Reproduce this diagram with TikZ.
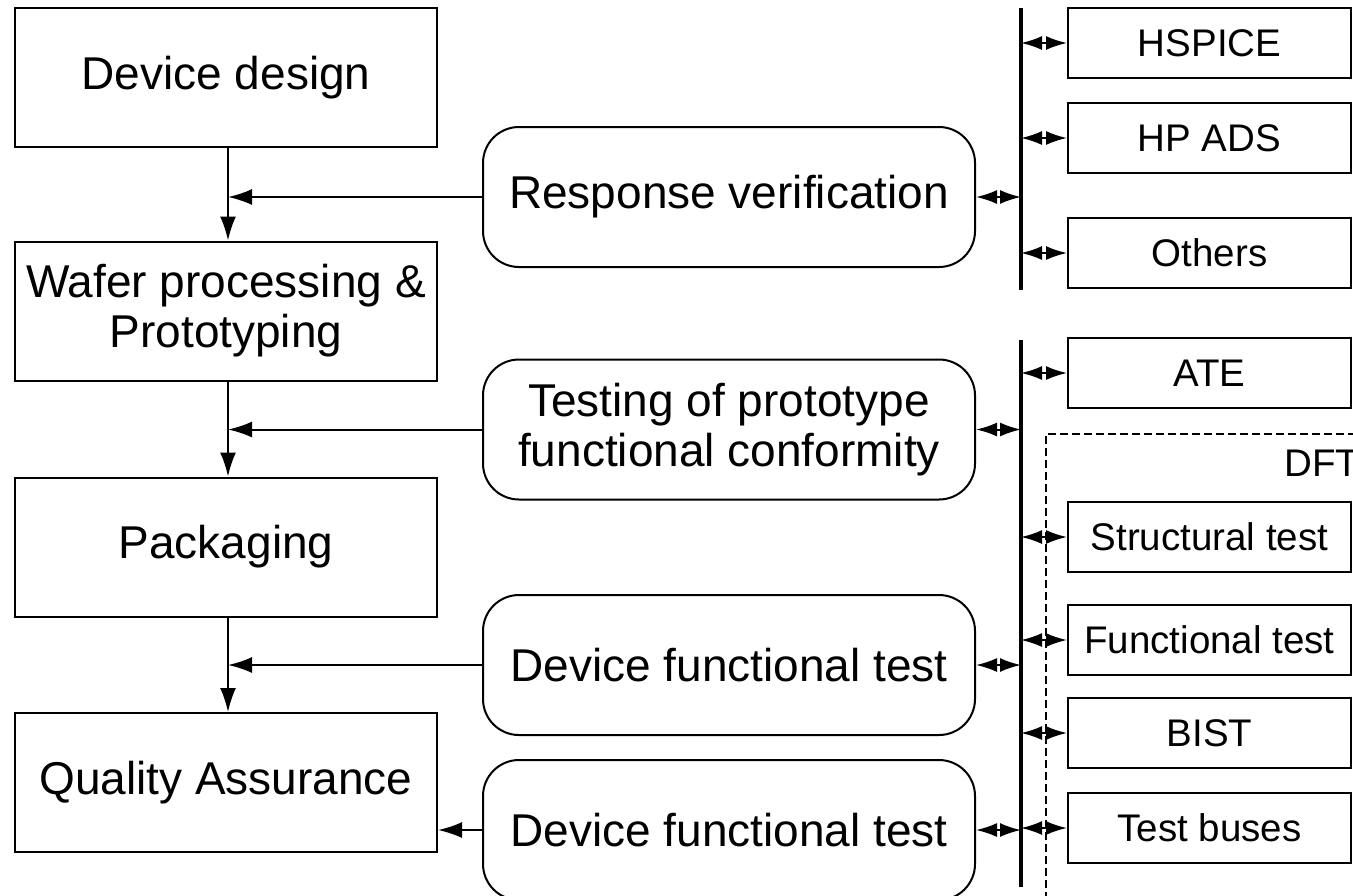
\documentclass[tikz,border=0pt]{standalone}
\usepackage{fontspec}
\setmainfont{Liberation Sans}
\usepackage{tikz}
\usetikzlibrary{shapes.geometric, arrows.meta, calc}
\tikzstyle{process} = [rectangle, minimum width=211pt, minimum height=69.5pt, text centered, align=center, draw=black, line width=1pt, font=\fontsize{23}{25}\selectfont]
\tikzstyle{check} = [rectangle, rounded corners=18pt, minimum width=246pt, minimum height=70pt, text centered, align=center, draw=black, line width=1pt, font=\fontsize{23}{25}\selectfont]
\tikzstyle{tool} = [rectangle, minimum width=141.5pt, minimum height=35pt, text centered, draw=black, line width=1pt, font=\fontsize{19.25}{22}\selectfont]
\tikzstyle{arrow} = [line width=1pt,-{Latex[length=12pt,width=8pt]}]
\tikzstyle{dblarrow} = [line width=1pt,{Latex[length=10.5pt,width=7pt]}-{Latex[length=10.5pt,width=7pt]}]
\tikzstyle{bus} = [line width=1.6pt]

\begin{document}
\begin{tikzpicture}[x=0.5pt, y=-0.5pt]
    \useasboundingbox (0,0) rectangle (1353,895);

    % flow on the left
    \node (device_design) [process] at (226,77.5) {Device design};
    \node (wafer_processing) [process] at (226,311) {Wafer processing \&\\Prototyping};
    \node (packaging) [process] at (226,547) {Packaging};
    \node (quality_assurance) [process] at (226,782.5) {Quality Assurance};

    % checks in the middle
    \node (response_verification) [check] at (729,197) {Response verification};
    \node (testing_prototype) [check] at (729,429.5) {Testing of prototype\\functional conformity};
    \node (functional_test_a) [check] at (729,665) {Device functional test};
    \node (functional_test_b) [check] at (729,830) {Device functional test};

    % tools on the right
    \node (hspice) [tool] at (1209.5,43) {HSPICE};
    \node (hp_ads) [tool] at (1209.5,138) {HP ADS};
    \node (others) [tool] at (1209.5,253) {Others};
    \node (ate) [tool] at (1209.5,373) {ATE};
    \node (structural_test) [tool] at (1209.5,537) {Structural test};
    \node (functional_test) [tool] at (1209.5,640) {Functional test};
    \node (bist) [tool] at (1209.5,733) {BIST};
    \node (test_buses) [tool] at (1209.5,828) {Test buses};

    % DFT group
    \draw[dashed, line width=0.7pt, dash pattern=on 4pt off 2pt] (1046,900) |- (1360,434);
    \node (dft) [font=\fontsize{19.25}{22}\selectfont] at (1322,463) {DFT};

    % buses
    \coordinate (bus_sim_top) at (1021,8);
    \coordinate (bus_sim_bot) at (1021,290);
    \coordinate (bus_test_top) at (1021,340);
    \coordinate (bus_test_bot) at (1021,887);
    \draw[bus] (bus_sim_top) -- (bus_sim_bot);
    \draw[bus] (bus_test_top) -- (bus_test_bot);

    \draw[arrow] (device_design.south -| 228,0) -- (wafer_processing.north -| 228,0);
    \draw[arrow] (wafer_processing.south -| 228,0) -- (packaging.north -| 228,0);
    \draw[arrow] (packaging.south -| 228,0) -- (quality_assurance.north -| 228,0);

    \draw[arrow] (response_verification.west) -- (response_verification.west -| 228,0);
    \draw[arrow] (testing_prototype.west) -- (testing_prototype.west -| 228,0);
    \draw[arrow] (functional_test_a.west) -- (functional_test_a.west -| 228,0);
    \draw[arrow] (functional_test_b.west) -- (functional_test_b.west -| quality_assurance.east);

    \draw[dblarrow] (response_verification.east) -- (response_verification.east -| bus_sim_top);
    \draw[dblarrow] (testing_prototype.east) -- (testing_prototype.east -| bus_test_top);
    \draw[dblarrow] (functional_test_a.east) -- (functional_test_a.east -| bus_test_top);
    \draw[dblarrow] (functional_test_b.east) -- (functional_test_b.east -| bus_test_top);

    \foreach \t in {hspice, hp_ads, others}
        \draw[dblarrow] (\t.west -| bus_sim_top) -- (\t.west);
    \foreach \t in {ate, structural_test, functional_test, bist, test_buses}
        \draw[dblarrow] (\t.west -| bus_test_top) -- (\t.west);
\end{tikzpicture}
\end{document}
